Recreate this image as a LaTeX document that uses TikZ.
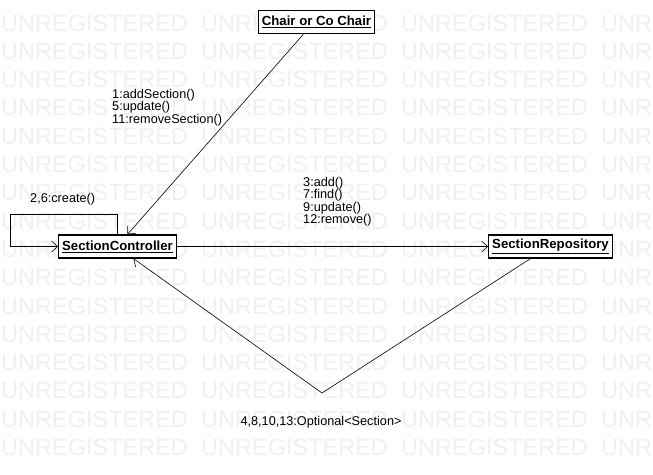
\documentclass[tikz,border=0pt]{standalone}
\usepackage{fontspec}
\setmainfont{Liberation Sans}
\usetikzlibrary{arrows.meta}

\definecolor{wmgray}{RGB}{240,240,240}

\tikzset{
  objbox/.style={draw=black, line width=1.2pt, fill=white, inner xsep=3.5pt,
    minimum height=23pt, font=\fontsize{13.2}{14}\selectfont\bfseries},
  msg/.style={draw=black, line width=0.6pt, -{Straight Barb[length=6pt,width=11pt]}},
  lbl/.style={align=left, inner sep=0pt, anchor=north west,
    font=\fontsize{12.7}{12.3}\selectfont},
  wmark/.style={text=wmgray, inner sep=0pt, anchor=west,
    font=\fontsize{23.5}{24}\selectfont}
}

\begin{document}
\begin{tikzpicture}[x=1pt, y=-1pt]
  \useasboundingbox (0,0) rectangle (653,474);
  \fill[white] (0,0) rectangle (653,474);

  % watermark rows
  \foreach \r in {0,...,15}
    \foreach \c in {0,...,3}
      \node[wmark] at (\c*200+1, 23+\r*28.3) {UNREGISTERED};

  % objects
  \node[objbox] (chair) at (316.5,22) {\underline{Chair or Co Chair}};
  \node[objbox] (ctrl) at (117.5,246.5) {\underline{SectionController}};
  \node[objbox] (repo) at (550.5,246.5) {\underline{SectionRepository}};

  \coordinate (loopc) at (10,214);
  \coordinate (retc) at (322,393);

  % messages
  \draw[msg] ([xshift=-13pt]chair.south) -- ([xshift=10pt]ctrl.north);
  \draw[msg] (ctrl.north) |- (loopc) |- (ctrl.west);
  \draw[msg] (ctrl.east) -- (repo.west);
  \draw[msg] ([xshift=-20pt]repo.south) -- (retc) -- ([xshift=16pt]ctrl.south);

  % labels
  \node[lbl] (lblA) at (112,89) {1:addSection()\\5:update()\\11:removeSection()};
  \node[lbl] (lblB) at (30,193) {2,6:create()};
  \node[lbl] (lblC) at (303,177) {3:add()\\7:find()\\9:update()\\12:remove()};
  \node[font=\fontsize{12.7}{12.3}\selectfont, inner sep=0pt] (lblD) at (321,422)
    {4,8,10,13:Optional<Section>};
\end{tikzpicture}
\end{document}
